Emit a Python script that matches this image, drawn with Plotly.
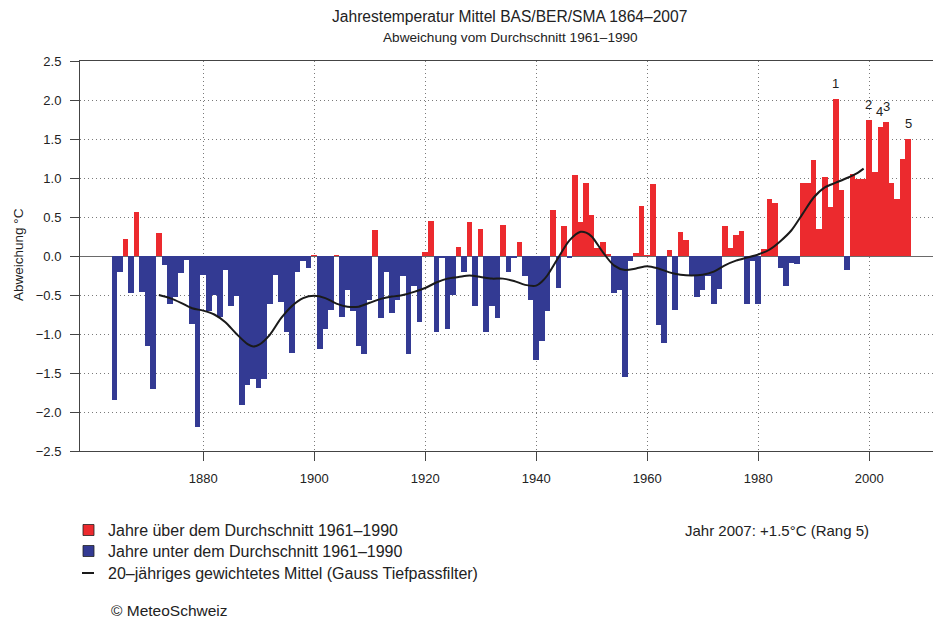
import plotly.graph_objects as go

# Annual mean temperature anomaly (°C) vs. 1961-1990, mean of Basel / Bern / Säntis
years = list(range(1864, 2008))
anomaly = [
    -1.84, -0.21, 0.22, -0.48, 0.56, -0.46, -1.15, -1.71, 0.29, -0.11,   # 1864-1873
    -0.62, -0.53, -0.22, -0.05, -0.87, -2.19, -0.24, -0.71, -0.50, -0.78,  # 1874-1883
    -0.18, -0.64, -0.51, -1.91, -1.65, -1.58, -1.69, -1.58, -0.61, -0.24,  # 1884-1893
    -0.59, -0.97, -1.24, -0.20, -0.07, -0.16, 0.01, -1.19, -0.93, -0.69,   # 1894-1903
    0.01, -0.78, -0.44, -0.71, -1.16, -1.26, -0.57, 0.33, -0.79, -0.21,    # 1904-1913
    -0.73, -0.56, -0.26, -1.25, -0.39, -0.84, 0.05, 0.45, -0.98, -0.02,    # 1914-1923
    -0.93, -0.50, 0.12, -0.21, 0.44, -0.64, 0.35, -0.98, -0.64, -0.79,     # 1924-1933
    0.40, -0.21, -0.03, 0.18, -0.26, -0.56, -1.33, -1.09, -0.70, 0.59,     # 1934-1943
    -0.41, 0.38, -0.02, 1.04, 0.44, 0.94, 0.53, 0.10, 0.18, 0.03,          # 1944-1953
    -0.47, -0.43, -1.55, -0.06, 0.04, 0.64, 0.01, 0.92, -0.88, -1.12,      # 1954-1963
    0.08, -0.69, 0.31, 0.21, -0.26, -0.53, -0.44, -0.25, -0.62, -0.42,     # 1964-1973
    0.38, 0.10, 0.27, 0.32, -0.61, -0.06, -0.61, 0.09, 0.73, 0.68,         # 1974-1983
    -0.15, -0.39, -0.09, -0.10, 0.93, 0.94, 1.23, 0.35, 1.01, 0.63,        # 1984-1993
    2.01, 0.84, -0.18, 1.05, 0.99, 0.99, 1.75, 1.08, 1.66, 1.72,           # 1994-2003
    0.94, 0.73, 1.24, 1.50,                                                # 2004-2007
]

# 20-year weighted mean (Gaussian low-pass filter)
smooth_years = [
    1872, 1874, 1876, 1878, 1880, 1882, 1884, 1886, 1888, 1889, 1890, 1892,
    1894, 1896, 1898, 1900, 1902, 1904, 1906, 1908, 1910, 1912, 1914, 1916,
    1918, 1920, 1922, 1924, 1926, 1928, 1930, 1932, 1934, 1936, 1938, 1940,
    1941, 1942, 1944, 1946, 1948, 1949, 1950, 1952, 1954, 1956, 1958, 1960,
    1962, 1964, 1966, 1968, 1970, 1972, 1974, 1976, 1978, 1980, 1982, 1984,
    1986, 1988, 1990, 1992, 1994, 1996, 1998, 1999,
]
smooth_values = [
    -0.50, -0.54, -0.60, -0.67, -0.70, -0.75, -0.85, -1.00, -1.13, -1.16, -1.14, -1.01,
    -0.80, -0.64, -0.54, -0.51, -0.54, -0.61, -0.65, -0.65, -0.60, -0.55, -0.52, -0.50,
    -0.46, -0.41, -0.34, -0.29, -0.27, -0.25, -0.27, -0.29, -0.29, -0.32, -0.37, -0.38,
    -0.33, -0.25, -0.02, 0.20, 0.31, 0.30, 0.25, 0.05, -0.12, -0.18, -0.16, -0.13,
    -0.16, -0.21, -0.24, -0.25, -0.24, -0.20, -0.12, -0.06, -0.02, 0.02, 0.08, 0.19,
    0.33, 0.54, 0.75, 0.88, 0.94, 1.00, 1.07, 1.12,
]

x_ticks = [1880, 1900, 1920, 1940, 1960, 1980, 2000]
y_ticks = [-2.5, -2.0, -1.5, -1.0, -0.5, 0.0, 0.5, 1.0, 1.5, 2.0, 2.5]

RED = "#ec2a2e"
BLUE = "#333a93"
LINE = "#1a1a1a"
AXIS = "#444444"
GRID = "#7a7a7a"
TEXT = "#222222"
FONT = "Liberation Sans"

# page geometry (pixels) and helpers to place decorations in paper units
W, H = 933, 621
ML, MR, MT, MB = 80, 0, 61, 170
PW, PH = W - ML - MR, H - MT - MB


def paper_x(px):
    return (px - ML) / PW


def paper_y(py):
    return (H - MB - py) / PH


warm = [(y, v) for y, v in zip(years, anomaly) if v >= 0]
cold = [(y, v) for y, v in zip(years, anomaly) if v < 0]

fig = go.Figure()
fig.add_bar(
    x=[y for y, _ in warm], y=[v for _, v in warm], width=1.0,
    marker=dict(color=RED, line=dict(width=0)), showlegend=False,
)
fig.add_bar(
    x=[y for y, _ in cold], y=[v for _, v in cold], width=1.0,
    marker=dict(color=BLUE, line=dict(width=0)), showlegend=False,
)
fig.add_scatter(
    x=smooth_years, y=smooth_values, mode="lines",
    line=dict(color=LINE, width=2, shape="spline", smoothing=0.8), showlegend=False,
)

annotations = []

# rank labels for the five warmest years
ranked = sorted(zip(anomaly, years), reverse=True)[:5]
rank_nudge = {1: 0, 2: -1, 3: 1, 4: -1, 5: 0}
for rank, (val, yr) in enumerate(ranked, start=1):
    annotations.append(dict(
        x=yr, y=val, xref="x", yref="y", text=str(rank), showarrow=False,
        yanchor="bottom", yshift=6, xshift=rank_nudge[rank],
        font=dict(family=FONT, size=13, color=TEXT),
    ))

# titles
annotations.append(dict(
    x=paper_x(509), y=paper_y(17), xref="paper", yref="paper",
    text="Jahrestemperatur Mittel BAS/BER/SMA 1864\u20132007", showarrow=False,
    xanchor="center", yanchor="middle", font=dict(family=FONT, size=15.6, color=TEXT),
))
annotations.append(dict(
    x=paper_x(510), y=paper_y(37), xref="paper", yref="paper",
    text="Abweichung vom Durchschnitt 1961\u20131990", showarrow=False,
    xanchor="center", yanchor="middle", font=dict(family=FONT, size=13.6, color=TEXT),
))
# y axis title
annotations.append(dict(
    x=paper_x(18), y=paper_y(255), xref="paper", yref="paper",
    text="Abweichung \u00b0C", showarrow=False, textangle=-90,
    xanchor="center", yanchor="middle", font=dict(family=FONT, size=13.5, color=TEXT),
))

# legend block
legend_rows = [
    (530, "Jahre \u00fcber dem Durchschnitt 1961\u20131990", RED),
    (551, "Jahre unter dem Durchschnitt 1961\u20131990", BLUE),
    (573, "20\u2013j\u00e4hriges gewichtetes Mittel (Gauss Tiefpassfilter)", None),
]
shapes = []
for ypx, label, color in legend_rows:
    if color is not None:
        shapes.append(dict(
            type="rect", xref="paper", yref="paper",
            x0=paper_x(83), x1=paper_x(94), y0=paper_y(ypx + 5.5), y1=paper_y(ypx - 5.5),
            fillcolor=color, line=dict(color=TEXT, width=0.8),
        ))
    else:
        shapes.append(dict(
            type="line", xref="paper", yref="paper",
            x0=paper_x(82), x1=paper_x(94), y0=paper_y(ypx), y1=paper_y(ypx),
            line=dict(color=LINE, width=2),
        ))
    annotations.append(dict(
        x=paper_x(106), y=paper_y(ypx), xref="paper", yref="paper", text=label,
        showarrow=False, xanchor="left", yanchor="middle",
        font=dict(family=FONT, size=16, color=TEXT),
    ))

last_year, last_val = years[-1], anomaly[-1]
last_rank = [yr for _, yr in ranked].index(last_year) + 1
annotations.append(dict(
    x=paper_x(683), y=paper_y(530), xref="paper", yref="paper",
    text=f"Jahr {last_year}: +{last_val:.1f}\u00b0C (Rang {last_rank})",
    showarrow=False, xanchor="left", yanchor="middle",
    font=dict(family=FONT, size=15, color=TEXT),
))
annotations.append(dict(
    x=paper_x(109), y=paper_y(610), xref="paper", yref="paper",
    text="\u00a9 MeteoSchweiz", showarrow=False, xanchor="left", yanchor="middle",
    font=dict(family=FONT, size=15.5, color=TEXT),
))

fig.update_layout(
    width=W, height=H,
    margin=dict(l=ML, r=MR, t=MT, b=MB, pad=0),
    paper_bgcolor="white", plot_bgcolor="white",
    barmode="overlay", bargap=0,
    font=dict(family=FONT, size=13, color=TEXT),
    annotations=annotations, shapes=shapes,
    showlegend=False,
)
fig.update_xaxes(
    range=[1857.8, 2011.5], tickvals=x_ticks, ticktext=[str(t) for t in x_ticks],
    ticks="outside", ticklen=9, tickcolor=AXIS, tickwidth=1, ticklabelstandoff=6,
    showline=True, linecolor=AXIS, linewidth=1, mirror=True,
    showgrid=True, gridcolor=GRID, griddash="1px,3px", gridwidth=1,
    zeroline=False, tickfont=dict(family=FONT, size=13, color=TEXT),
)
fig.update_yaxes(
    range=[-2.5, 2.5], tickvals=y_ticks, tickformat=".1f",
    ticks="outside", ticklen=9, tickcolor=AXIS, tickwidth=1, ticklabelstandoff=6,
    showline=True, linecolor=AXIS, linewidth=1,
    showgrid=True, gridcolor=GRID, griddash="1px,3px", gridwidth=1,
    zeroline=True, zerolinecolor="#6a6a6a", zerolinewidth=1,
    tickfont=dict(family=FONT, size=13, color=TEXT),
)

fig.write_html("out.html")
